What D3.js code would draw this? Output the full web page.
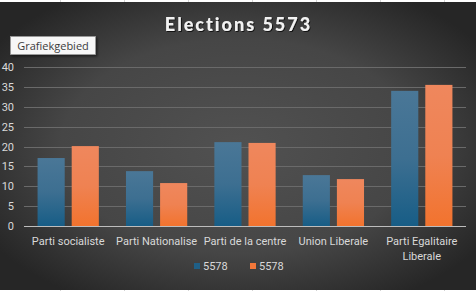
<!DOCTYPE html>
<html><head><meta charset="utf-8">
<script src="https://cdn.jsdelivr.net/npm/d3@7"></script>
<style>html,body{margin:0;padding:0;background:#fff;overflow:hidden}</style>
</head><body>
<svg id="c" width="476" height="291"></svg>
<script>
const categories = ["Parti socialiste", "Parti Nationalise", "Parti de la centre", "Union Liberale", "Parti Egalitaire Liberale"];
const seriesNames = ["5578", "5578"];
const series1 = [17.1, 13.8, 21.1, 12.8, 34.0];
const series2 = [20.1, 10.8, 20.9, 11.8, 35.5];
const yTicks = [0, 5, 10, 15, 20, 25, 30, 35, 40];
const title = "Elections 5573";

const svg = d3.select("#c");
const W = 476, H = 291;
const defs = svg.append("defs");

const bg = defs.append("radialGradient").attr("id","bg").attr("cx","50%").attr("cy","50%").attr("r","62%")
  .attr("gradientUnits","objectBoundingBox");
bg.append("stop").attr("offset","0%").attr("stop-color","#515151");
bg.append("stop").attr("offset","60%").attr("stop-color","#464646");
bg.append("stop").attr("offset","100%").attr("stop-color","#262626");

const gBlue = defs.append("linearGradient").attr("id","gb").attr("x1",0).attr("x2",0).attr("y1",0).attr("y2",1);
gBlue.append("stop").attr("offset","0%").attr("stop-color","#4a7797");
gBlue.append("stop").attr("offset","50%").attr("stop-color","#3d6f91");
gBlue.append("stop").attr("offset","100%").attr("stop-color","#175d86");
const gOr = defs.append("linearGradient").attr("id","go").attr("x1",0).attr("x2",0).attr("y1",0).attr("y2",1);
gOr.append("stop").attr("offset","0%").attr("stop-color","#ef875d");
gOr.append("stop").attr("offset","50%").attr("stop-color","#ef8252");
gOr.append("stop").attr("offset","100%").attr("stop-color","#f2732e");

const shadow = defs.append("filter").attr("id","sh").attr("x","-20%").attr("y","-20%").attr("width","150%").attr("height","160%");
shadow.append("feDropShadow").attr("dx",1.5).attr("dy",1.5).attr("stdDeviation",1.2).attr("flood-color","#000").attr("flood-opacity",0.5);
const tshadow = defs.append("filter").attr("id","tsh").attr("x","-10%").attr("y","-30%").attr("width","120%").attr("height","160%");
tshadow.append("feDropShadow").attr("dx",1).attr("dy",1).attr("stdDeviation",0.6).attr("flood-color","#000").attr("flood-opacity",0.7);

svg.append("rect").attr("x",0).attr("y",0).attr("width",W).attr("height",H).attr("fill","#ffffff");
[60.5,124.5,188.5,252.5,316.5,380.5,444.5].forEach(x=>{
  svg.append("line").attr("x1",x).attr("x2",x).attr("y1",0).attr("y2",H).attr("stroke","#d4d4d4");
});
svg.append("rect").attr("x",0).attr("y",2).attr("width",W).attr("height",288).attr("fill","url(#bg)");

const x0 = d3.scaleBand().domain(categories).range([24, 466]).paddingInner(0.307).paddingOuter(0.1535);
const x1 = d3.scaleBand().domain([0,1]).range([0, x0.bandwidth()]).paddingInner(0.205);
const y = d3.scaleLinear().domain([0, 40]).range([226, 67]);

svg.append("g").selectAll("line").data(yTicks.slice(1)).join("line")
  .attr("x1",24).attr("x2",466).attr("y1",d=>Math.round(y(d))+0.5).attr("y2",d=>Math.round(y(d))+0.5)
  .attr("stroke","#6a6a6a").attr("stroke-width",1);

const yAxis = d3.axisLeft(y).tickValues(yTicks).tickSize(0).tickPadding(0);
const ya = svg.append("g").attr("transform","translate(14,0)").call(yAxis);
ya.select(".domain").remove();
ya.selectAll("text").attr("fill","#d9d9d9").style("font-family","Roboto, 'Open Sans', sans-serif").style("font-size","11px");

const data = categories.map((c,i)=>({c, v:[series1[i], series2[i]]}));
const grp = svg.append("g").selectAll("g").data(data).join("g").attr("transform",d=>`translate(${x0(d.c)},0)`);
grp.selectAll("rect").data(d=>d.v.map((v,k)=>({v,k}))).join("rect")
  .attr("x",d=>x1(d.k)).attr("width",x1.bandwidth())
  .attr("y",d=>y(d.v)).attr("height",d=>y(0)-y(d.v))
  .attr("fill",d=>d.k===0?"url(#gb)":"url(#go)");

svg.append("line").attr("x1",24).attr("x2",466).attr("y1",226.5).attr("y2",226.5).attr("stroke","#bdbdbd").attr("stroke-width",1);

const xa = svg.append("g").attr("transform","translate(0,226)").call(d3.axisBottom(x0).tickSize(0).tickPadding(0));
xa.select(".domain").remove();
xa.selectAll("text").text(null).attr("dy",null).attr("y",null).attr("fill","#d9d9d9").style("font-family","Roboto, 'Open Sans', sans-serif").style("font-size","11px")
  .each(function(d){
    const t = d3.select(this);
    const lines = d === "Parti Egalitaire Liberale" ? ["Parti Egalitaire","Liberale"] : [d];
    lines.forEach((l,i)=>t.append("tspan").attr("x",0).attr("y",19 + i*15).text(l));
  });

const leg = svg.append("g");
const legX = [194, 250];
seriesNames.forEach((n,i)=>{
  leg.append("rect").attr("x",legX[i]).attr("y",263).attr("width",6).attr("height",6).attr("fill",i===0?"#1f5f86":"#f2773a");
  leg.append("text").attr("x",legX[i]+9).attr("y",269.5).text(n).attr("fill","#d9d9d9")
    .style("font-family","Roboto, 'Open Sans', sans-serif").style("font-size","11px");
});

svg.append("text").attr("x",238.5).attr("y",31).attr("text-anchor","middle").text(title)
  .attr("fill","#f2f2f2").attr("filter","url(#tsh)")
  .style("font-family","Lato, 'Open Sans', sans-serif").style("font-weight","900").style("font-size","18px").style("letter-spacing","2px");

const tip = svg.append("g");
tip.append("rect").attr("x",10.5).attr("y",36.5).attr("width",85).attr("height",18).attr("fill","#f7f7f7").attr("stroke","#9a9a9a").attr("stroke-width",0.8).attr("filter","url(#sh)");
tip.append("text").attr("x",53).attr("y",49.5).attr("text-anchor","middle").text("Grafiekgebied").attr("fill","#3c3c3c")
  .style("font-family","'Open Sans', 'Noto Sans', sans-serif").style("font-size","11px");
</script>
</body></html>
